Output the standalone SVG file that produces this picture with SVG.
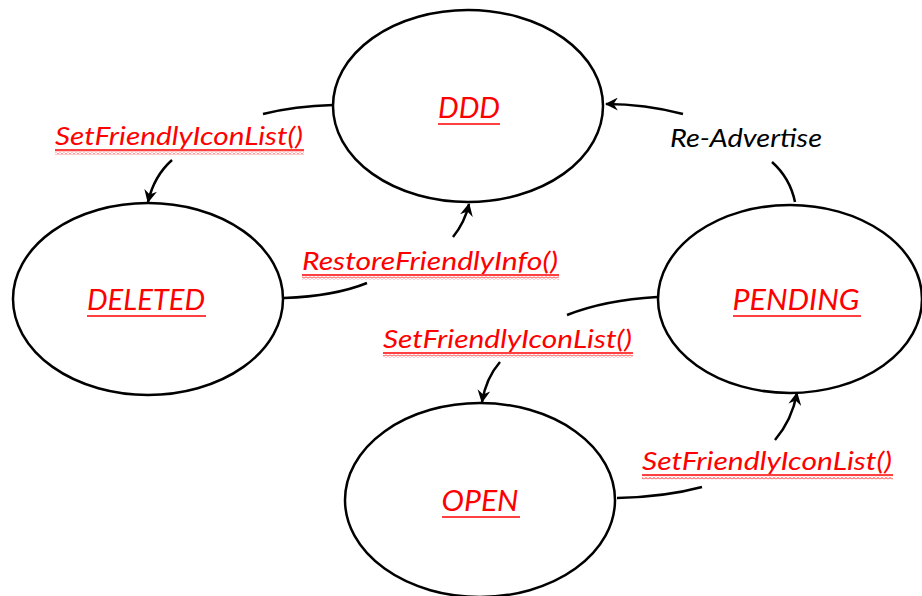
<svg xmlns="http://www.w3.org/2000/svg" width="922" height="596" viewBox="0 0 922 596">
<style>
.node{fill:#fff;stroke:#000;stroke-width:2.5}
.conn{fill:none;stroke:#000;stroke-width:2.5}
.lbl{font-family:Lato,"Liberation Sans",sans-serif;font-style:italic;fill:#ff0000;text-anchor:middle}
.big{font-size:29px}
.small{font-size:26px}
.ul{stroke:#ff0000;stroke-width:1.5}
.blk{fill:#000}
</style>
<defs>
<marker id="arr" viewBox="0 0 12 12" refX="11" refY="6" markerWidth="13" markerHeight="13" markerUnits="userSpaceOnUse" orient="auto">
<path d="M0,0 L12,6 L0,12 L4,6 z" fill="#000"/>
</marker>
<pattern id="wave" x="0" y="0" width="4" height="3" patternUnits="userSpaceOnUse">
<path d="M0,2.5 L2,0.5 L4,2.5" fill="none" stroke="#ff0000" stroke-width="0.9"/>
</pattern>
</defs>
<rect width="922" height="596" fill="#fff"/>
<g id="connectors">
<path class="conn" d="M333,105 Q295,106 263,114"/>
<path class="conn" d="M172,160 Q154,176 148,202" marker-end="url(#arr)"/>
<path class="conn" d="M284,298 Q335,296 367,283"/>
<path class="conn" d="M453,237 Q465,222 469,204" marker-end="url(#arr)"/>
<path class="conn" d="M657,297 Q605,300 567,315"/>
<path class="conn" d="M500,362 Q486,378 482,402" marker-end="url(#arr)"/>
<path class="conn" d="M617,498 Q665,497 702,487"/>
<path class="conn" d="M775,440 Q792,420 797,393" marker-end="url(#arr)"/>
<path class="conn" d="M795,202 Q790,178 772,162"/>
<path class="conn" d="M683,114 Q645,104 606,104" marker-end="url(#arr)"/>
</g>
<g id="node-ddd">
<ellipse class="node" cx="468" cy="106" rx="135" ry="96"/>
<text class="lbl big" x="469" y="118" textLength="62" lengthAdjust="spacingAndGlyphs">DDD</text>
<line class="ul" x1="438" y1="124" x2="500" y2="124"/>
</g>
<g id="node-deleted">
<ellipse class="node" cx="148" cy="299" rx="135" ry="96"/>
<text class="lbl big" x="146" y="310" textLength="118" lengthAdjust="spacingAndGlyphs">DELETED</text>
<line class="ul" x1="87" y1="316" x2="206" y2="316"/>
</g>
<g id="node-pending">
<ellipse class="node" cx="790" cy="299" rx="132" ry="94"/>
<text class="lbl big" x="796" y="310" textLength="127" lengthAdjust="spacingAndGlyphs">PENDING</text>
<line class="ul" x1="733" y1="316" x2="861" y2="316"/>
</g>
<g id="node-open">
<ellipse class="node" cx="480" cy="500" rx="135" ry="97"/>
<text class="lbl big" x="480" y="511" textLength="77" lengthAdjust="spacingAndGlyphs">OPEN</text>
<line class="ul" x1="442" y1="517" x2="520" y2="517"/>
</g>
<g id="labels">
<text class="lbl small" x="179" y="145" textLength="248" lengthAdjust="spacingAndGlyphs">SetFriendlyIconList()</text>
<line class="ul" x1="55" y1="150" x2="304" y2="150"/>
<rect x="55" y="151.5" width="249" height="3" fill="url(#wave)"/>
<text class="lbl small" x="430" y="270" textLength="256" lengthAdjust="spacingAndGlyphs">RestoreFriendlyInfo()</text>
<line class="ul" x1="302" y1="275" x2="559" y2="275"/>
<rect x="302" y="276.5" width="257" height="3" fill="url(#wave)"/>
<text class="lbl small" x="507.5" y="348" textLength="249" lengthAdjust="spacingAndGlyphs">SetFriendlyIconList()</text>
<line class="ul" x1="383" y1="353" x2="633" y2="353"/>
<rect x="383" y="354.5" width="250" height="3" fill="url(#wave)"/>
<text class="lbl small" x="767" y="470" textLength="250" lengthAdjust="spacingAndGlyphs">SetFriendlyIconList()</text>
<line class="ul" x1="642" y1="475" x2="893" y2="475"/>
<rect x="642" y="476.5" width="251" height="3" fill="url(#wave)"/>
<text class="lbl small blk" x="746" y="147" textLength="152" lengthAdjust="spacingAndGlyphs">Re-Advertise</text>
</g>
</svg>
